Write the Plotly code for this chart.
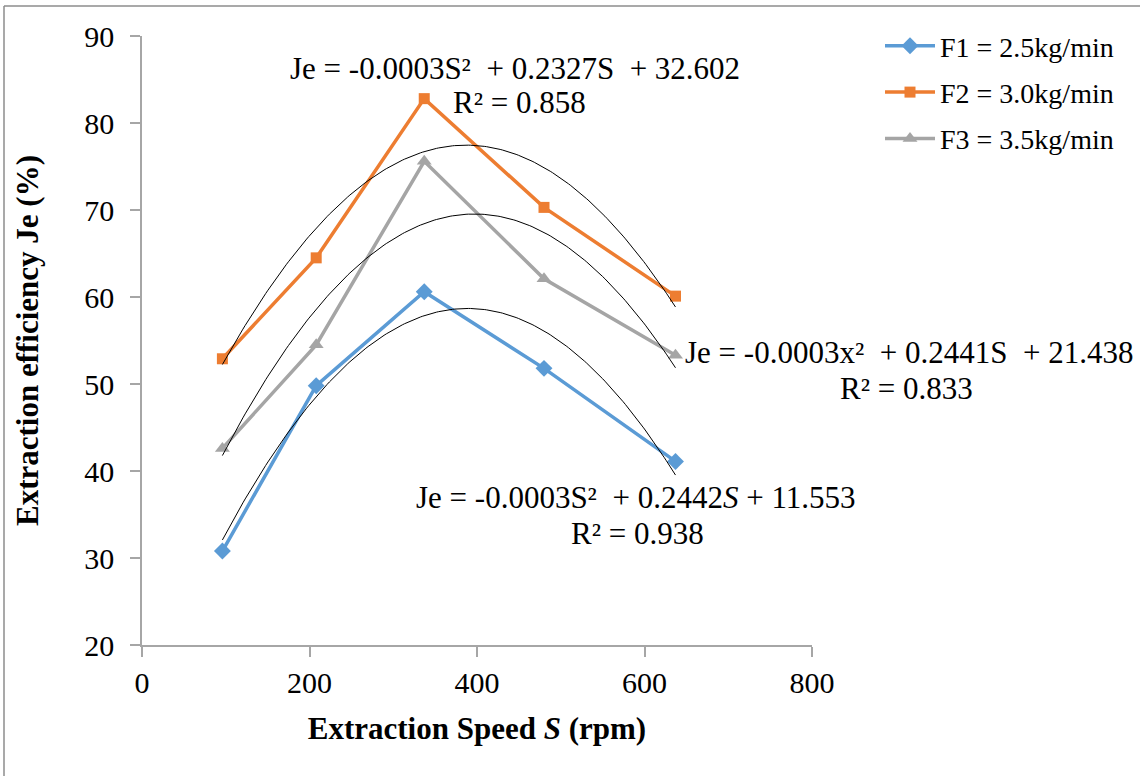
import numpy as np
import plotly.graph_objects as go

# Data
speed = [96, 208, 337, 480, 637]
f1 = [30.8, 49.8, 60.6, 51.8, 41.1]
f2 = [52.9, 64.5, 82.8, 70.3, 60.1]
f3 = [42.6, 54.5, 75.6, 62.1, 53.3]
names = ["F1 = 2.5kg/min", "F2 = 3.0kg/min", "F3 = 3.5kg/min"]
colors = ["#5b9bd5", "#ed7d31", "#a5a5a5"]
symbols = ["diamond", "square", "triangle-up"]
x_ticks = [0, 200, 400, 600, 800]
y_ticks = [20, 30, 40, 50, 60, 70, 80, 90]

FONT = "Liberation Serif, Times New Roman, serif"
W, H = 1140, 776
L, R, T, B = 142, 328, 36, 131
pw, ph = W - L - R, H - T - B

def px(xp):
    return (xp - L) / pw

def py(yp):
    return (H - B - yp) / ph

fig = go.Figure()
series = [f1, f2, f3]
for i, (ys, nm, c, s) in enumerate(zip(series, names, colors, symbols)):
    fig.add_trace(go.Scatter(
        x=speed, y=ys, name=nm, mode="lines+markers", legendgroup=f"g{i}",
        line=dict(color=c, width=3.5),
        marker=dict(symbol=s, size=13 if s != "square" else 11, color=c),
    ))

# quadratic trendlines (fitted from the data)
xs = np.linspace(min(speed), max(speed), 200)
for ys in series:
    coef = np.polyfit(speed, ys, 2)
    fig.add_trace(go.Scatter(
        x=xs, y=np.polyval(coef, xs), mode="lines", showlegend=False,
        line=dict(color="black", width=1), hoverinfo="skip",
    ))

ann = [
    ("Je = -0.0003S²  + 0.2327S  + 32.602", 515, 68),
    ("R² = 0.858", 519, 103),
    ("Je = -0.0003x²  + 0.2441S  + 21.438", 909, 353),
    ("R² = 0.833", 906, 388),
    ("Je = -0.0003S²  + 0.2442<i>S</i> + 11.553", 636, 497),
    ("R² = 0.938", 637, 533),
]
annotations = [
    dict(text=t, x=px(xx), y=py(yy), xref="paper", yref="paper",
         showarrow=False, xanchor="center", yanchor="middle",
         font=dict(family=FONT, size=31, color="black"))
    for t, xx, yy in ann
]

axis_common = dict(
    showgrid=False, zeroline=False, showline=True, linecolor="#a6a6a6",
    linewidth=1.5, ticks="outside", ticklen=10, tickcolor="#a6a6a6",
    tickwidth=1.5, tickfont=dict(family=FONT, size=30, color="black"),
)

fig.update_layout(
    width=W, height=H,
    margin=dict(l=L, r=R, t=T, b=B),
    paper_bgcolor="white", plot_bgcolor="white",
    font=dict(family=FONT, color="black"),
    xaxis=dict(range=[0, 800], tickvals=x_ticks, **axis_common,
               title=dict(text="<b>Extraction Speed <i>S</i> (rpm)</b>",
                          font=dict(family=FONT, size=31), standoff=20)),
    yaxis=dict(range=[20, 90], tickvals=y_ticks, **axis_common,
               ticklabelstandoff=10,
               title=dict(text="<b>Extraction efficiency Je (%)</b>",
                          font=dict(family=FONT, size=31), standoff=36)),
    legend=dict(x=px(880), y=py(21), xanchor="left", yanchor="top",
                font=dict(family=FONT, size=28), bgcolor="rgba(0,0,0,0)",
                itemwidth=50, tracegroupgap=7),
    annotations=annotations,
    shapes=[
        dict(type="line", xref="paper", yref="paper", x0=px(4), x1=px(W + 10),
             y0=py(6), y1=py(6), line=dict(color="#8c8c8c", width=1.5)),
        dict(type="line", xref="paper", yref="paper", x0=px(4), x1=px(4),
             y0=py(6), y1=py(H + 10), line=dict(color="#8c8c8c", width=1.5)),
    ],
)

fig.write_html("out.html")
